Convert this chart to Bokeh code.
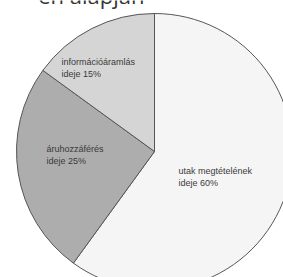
import math
from bokeh.plotting import figure
from bokeh.models import Range1d, ColumnDataSource
from bokeh.core.properties import value
from bokeh.embed import file_html
from bokeh.resources import INLINE

# Data
categories = ["utak megtételének", "áruhozzáférés", "információáramlás"]
shares = [60, 25, 15]
label_second = ["ideje 60%", "ideje 25%", "ideje 15%"]
colors = ["#f5f5f5", "#adadad", "#d5d5d5"]
title_tail = "en alapján"

W, H = 283, 277
p = figure(width=W, height=H, output_backend="svg", toolbar_location=None,
           x_range=Range1d(0, W), y_range=Range1d(0, H), min_border=0)
p.axis.visible = False
p.grid.visible = False
p.outline_line_color = None
p.background_fill_color = "white"
p.border_fill_color = "white"

cx, cy, r = 154, 126, 138
total = sum(shares)
starts, ends = [], []
a = math.pi / 2
for s in shares:
    starts.append(a)
    a -= s / total * 2 * math.pi
    ends.append(a)

src = ColumnDataSource(dict(x=[cx] * 3, y=[cy] * 3, start=starts, end=ends, color=colors))
p.wedge(x="x", y="y", radius=r, start_angle="start", end_angle="end", direction="clock",
        fill_color="color", line_color="#555555", line_width=1, source=src)

# label offsets (layout) relative to centre
offsets = [(24, -19), (-108, 3), (-93, 90)]
for cat, sec, (dx, dy) in zip(categories, label_second, offsets):
    p.text(x=[cx + dx], y=[cy + dy], text=[cat], text_font=value("Liberation Sans"),
           text_font_size="9px", text_color="#3a3a3a", text_baseline="middle", text_align="left")
    p.text(x=[cx + dx], y=[cy + dy - 12.5], text=[sec], text_font=value("Liberation Sans"),
           text_font_size="9px", text_color="#3a3a3a", text_baseline="middle", text_align="left")

# cut-off title remnant at the very top
p.text(x=[cx - 10], y=[H + 6], text=[title_tail], text_font=value("Open Sans"),
       text_font_size="22px", text_color="#333333", text_baseline="alphabetic", text_align="right")

open("out.html", "w").write(file_html(p, INLINE))
